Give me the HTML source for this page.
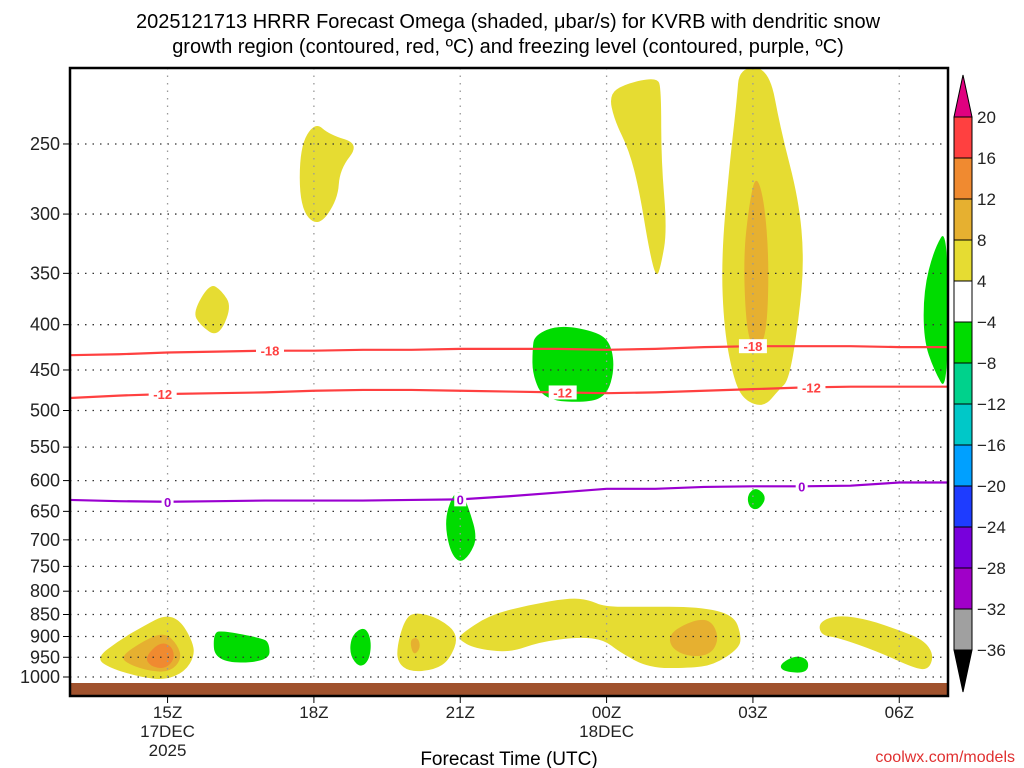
<!DOCTYPE html>
<html><head><meta charset="utf-8"><style>
html,body{margin:0;padding:0;background:#fff;width:1024px;height:768px;overflow:hidden}
svg text{font-family:"Liberation Sans",sans-serif}
</style></head><body>
<svg id="chart" width="1024" height="768" viewBox="0 0 1024 768" xmlns="http://www.w3.org/2000/svg">
<text x="508" y="28" font-size="20" text-anchor="middle" fill="#000">2025121713 HRRR Forecast Omega (shaded, μbar/s) for KVRB with dendritic snow</text>
<text x="508" y="53" font-size="20" text-anchor="middle" fill="#000">growth region (contoured, red, ºC) and freezing level (contoured, purple, ºC)</text>
<g id="shade"></g>
<g id="grid"></g>
<rect x="70" y="683" width="878" height="13" fill="#a0522d"/>
<g id="contours"></g>
<rect x="70" y="68" width="878" height="628" fill="none" stroke="#000" stroke-width="2.5"/>
<g id="axes"></g>
<g id="cbar"></g>
<text x="509" y="765" font-size="19" text-anchor="middle" fill="#000">Forecast Time (UTC)</text>
<text x="1015" y="762" font-size="16" text-anchor="end" fill="#e03030">coolwx.com/models</text>
</svg>
<script>
// axis data: hours since 13Z 17DEC; pressure levels in hPa
const xTickHours = [2, 5, 8, 11, 14, 17];
const xTickLabels = ["15Z", "18Z", "21Z", "00Z", "03Z", "06Z"];
const xTickSub = ["17DEC\n2025", "", "", "18DEC", "", ""];
const pLevels = [250,300,350,400,450,500,550,600,650,700,750,800,850,900,950,1000];
const cbarLabels = ["20","16","12","8","4","−4","−8","−12","−16","−20","−24","−28","−32","−36"];
const cbarColors = ["#ff4040","#f08a30","#e6b030","#e6dc32","#ffffff","#00dc00","#00d28c","#00c8c8","#00a0ff","#1e3cff","#7800dc","#a000c8","#a0a0a0"];
// shaded regions: [hour, pressure]
const yellowBlobs = [
 [[0.53,952],[1.02,908],[1.54,874],[1.94,851],[2.25,862],[2.5,908],[2.56,945],[2.35,987],[1.94,1008],[1.43,1000],[0.82,977]],
 [[2.52,387],[2.87,359],[3.11,366],[3.32,382],[3.03,414],[2.66,400]],
 [[4.71,252],[5.02,236],[5.32,244],[5.94,250],[5.53,267],[5.49,289],[5.08,311],[4.71,295]],
 [[6.71,920],[6.86,862],[7.06,844],[7.57,858],[7.98,897],[7.78,957],[7.47,982],[6.96,987],[6.71,962]],
 [[7.98,897],[8.6,851],[9.42,829],[10.24,814],[10.64,818],[10.95,833],[11.67,833],[12.9,833],[13.61,851],[13.76,897],[13.72,928],[13.2,969],[12.69,977],[11.87,977],[11.26,937],[10.95,908],[10.44,901],[9.62,913],[9.01,939],[8.29,928],[7.98,908]],
 [[11.05,220],[11.36,214],[12.04,210],[12.12,217],[12.12,261],[12.24,313],[12.12,342],[12.02,355],[11.87,329],[11.67,282],[11.46,254],[11.16,235]],
 [[13.72,205],[14.33,205],[14.57,241],[14.94,289],[15.05,338],[14.94,395],[14.74,462],[14.53,474],[14.23,496],[13.82,487],[13.61,462],[13.41,406],[13.35,338],[13.51,267],[13.67,223]],
 [[15.35,866],[15.76,851],[16.38,862],[16.99,885],[17.5,908],[17.71,944],[17.6,982],[17.3,977],[16.58,937],[15.76,903],[15.39,897]]
];
const goldBlobs = [
 [[1.02,949],[1.54,908],[1.94,890],[2.21,920],[2.29,955],[2.05,987],[1.64,985],[1.23,969]],
 [[6.96,908],[7.13,901],[7.19,927],[7.04,947]],
 [[12.28,892],[12.79,862],[13.14,862],[13.31,903],[13.14,944],[12.69,949],[12.32,928]],
 [[13.92,293],[14.06,270],[14.23,289],[14.33,338],[14.29,406],[14.12,427],[13.88,416],[13.8,338]]
];
const orangeBlobs = [
 [[1.54,949],[1.84,913],[2.09,922],[2.15,955],[1.94,980],[1.64,972]]
];
const greenBlobs = [
 [[2.93,890],[3.17,887],[3.89,903],[4.09,913],[4.09,962],[2.97,964]],
 [[5.77,897],[6.04,876],[6.18,908],[6.14,957],[5.94,977],[5.73,944]],
 [[7.84,623],[8.02,615],[8.19,648],[8.35,696],[8.19,729],[7.98,744],[7.78,719],[7.68,665]],
 [[9.52,411],[10.03,400],[10.85,408],[11.1,422],[11.16,450],[11.01,480],[10.64,490],[9.72,487],[9.48,456],[9.48,427]],
 [[13.88,623],[14.06,610],[14.29,626],[14.12,648],[13.92,644]],
 [[14.53,969],[14.88,944],[15.15,957],[15.11,990],[14.64,987]],
 [[18,309],[17.71,329],[17.5,366],[17.5,416],[17.71,450],[18,480]]
];
// contour pressures by hour 0..18
const minus18 = [433,432,430,429,428,428,427,427,426,426,426,427,426,424,423,423,423,424,424];
const minus12 = [484,481,479,478,477,475,474,474,475,476,477,478,477,475,473,471,470,470,470];
const zeroLine = [631,633,634,633,632,632,632,631,630,625,619,613,613,610,609,609,608,603,603];
const minus18Labels = [4.1, 14.0];
const minus12Labels = [1.9, 10.1, 15.2];
const zeroLabels = [2.0, 8.0, 15.0];

const NS = "http://www.w3.org/2000/svg";
const X0 = 70, PXH = 48.78, Y1000 = 677, YK = 384.5;
const xs = h => X0 + h * PXH;
const ys = p => Y1000 + YK * Math.log(p / 1000);
function mk(tag, attrs, parent){ const e=document.createElementNS(NS,tag); for(const k in attrs) e.setAttribute(k,attrs[k]); parent.appendChild(e); return e; }
const shade = document.getElementById('shade');
function smoothPath(pts){
  const P = pts.map(q=>[xs(q[0]), ys(q[1])]); const n=P.length; let d="";
  for(let i=0;i<n;i++){ const a=P[i], b=P[(i+1)%n]; const m=[(a[0]+b[0])/2,(a[1]+b[1])/2];
    if(i===0){ const z=P[n-1]; d+=`M${(z[0]+a[0])/2},${(z[1]+a[1])/2} `; }
    d+=`Q${a[0]},${a[1]} ${m[0]},${m[1]} `; }
  return d+"Z";
}
function drawBlobs(list, color, name){
  list.forEach(b=>{ const e=mk('path',{d:smoothPath(b),fill:color},shade);
    
     });
}
drawBlobs(yellowBlobs,'#e6dc32','omega-4-8-region');
drawBlobs(goldBlobs,'#e6b030','omega-8-12-region');
drawBlobs(orangeBlobs,'#f08a30','omega-12-16-region');
drawBlobs(greenBlobs,'#00dc00','omega-neg4-neg8-region');

const grid = document.getElementById('grid');
pLevels.forEach(p=>{ const l=mk('line',{x1:X0,x2:948,y1:ys(p),y2:ys(p),stroke:'#333','stroke-width':1.3,'stroke-dasharray':'1.5 6'},grid);
  
   });
xTickHours.forEach(h=>{ const l=mk('line',{x1:xs(h),x2:xs(h),y1:68,y2:696,stroke:'#999','stroke-width':1.3,'stroke-dasharray':'1.5 6'},grid);
  
   });

const axes = document.getElementById('axes');
pLevels.forEach(p=>{ const t=mk('text',{x:60,y:ys(p)+6,'font-size':18,'text-anchor':'end',fill:'#222'},axes); t.textContent=p;
  
  
  mk('line',{x1:63,x2:70,y1:ys(p),y2:ys(p),stroke:'#000','stroke-width':1},axes); });
xTickHours.forEach((h,i)=>{ const t=mk('text',{x:xs(h),y:718,'font-size':17,'text-anchor':'middle',fill:'#222'},axes); t.textContent=xTickLabels[i];
  
  
  mk('line',{x1:xs(h),x2:xs(h),y1:696,y2:703,stroke:'#000','stroke-width':1},axes);
  xTickSub[i].split("\n").forEach((s,j)=>{ if(!s) return; const u=mk('text',{x:xs(h),y:737+j*19,'font-size':17,'text-anchor':'middle',fill:'#222'},axes); u.textContent=s;
    
     }); });

const cont = document.getElementById('contours');
function interp(arr,h){ const i=Math.min(Math.floor(h),arr.length-2); const f=h-i; return arr[i]*(1-f)+arr[i+1]*f; }
function drawLine(arr,color,labels,txt,name){
  const d=arr.map((p,i)=>(i?'L':'M')+xs(i)+','+ys(p)).join(' ');
  const e=mk('path',{d:d,fill:'none',stroke:color,'stroke-width':2.2},cont);
  
  
  labels.forEach(h=>{ const x=xs(h), y=ys(interp(arr,h)); const w=txt.length*8+4;
    mk('rect',{x:x-w/2,y:y-7,width:w,height:14,fill:'#fff'},cont);
    const t=mk('text',{x:x,y:y+5,'font-size':13,'font-weight':'bold','text-anchor':'middle',fill:color},cont); t.textContent=txt;
    
     });
}
drawLine(minus18,'#ff4040',minus18Labels,'-18','contour-minus18');
drawLine(minus12,'#ff4040',minus12Labels,'-12','contour-minus12');
drawLine(zeroLine,'#9a00d0',zeroLabels,'0','freezing-level-contour');

const cb = document.getElementById('cbar');
const CBX=954, CBW=18, CBT=117, CBS=41;
mk('polygon',{points:`${CBX},${CBT} ${CBX+CBW},${CBT} ${CBX+CBW/2},75`,fill:'#e0007f',stroke:'#000','stroke-width':1},cb);
cbarColors.forEach((c,i)=>{ const r=mk('rect',{x:CBX,y:CBT+i*CBS,width:CBW,height:CBS,fill:c,stroke:'#000','stroke-width':1},cb);
  
   });
const cbBot=CBT+cbarColors.length*CBS;
mk('polygon',{points:`${CBX},${cbBot} ${CBX+CBW},${cbBot} ${CBX+CBW/2},692`,fill:'#000',stroke:'#000','stroke-width':1},cb);
cbarLabels.forEach((s,i)=>{ const t=mk('text',{x:977,y:CBT+i*CBS+6,'font-size':17,fill:'#222'},cb); t.textContent=s;
  
   });
</script>
</body></html>
